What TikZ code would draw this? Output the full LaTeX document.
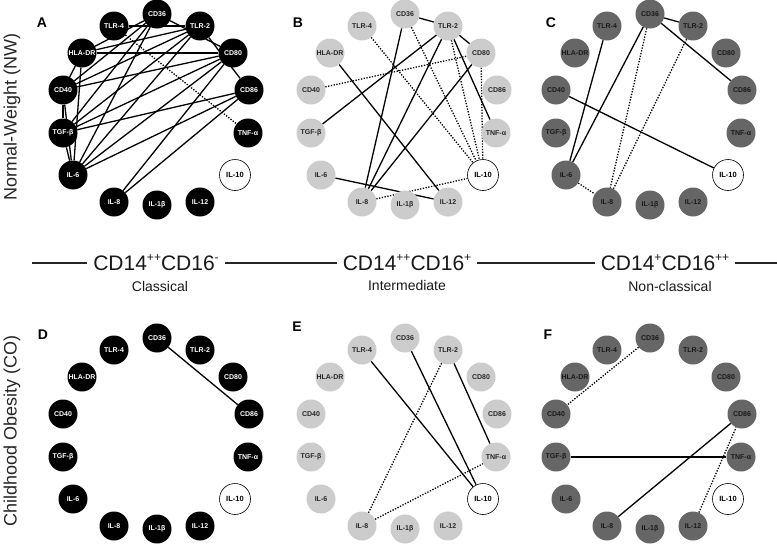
\documentclass[tikz,border=0pt]{standalone}
\usepackage{fontspec}
\setmainfont{Liberation Sans}
\usetikzlibrary{calc}
\pgfdeclarelayer{bg}
\pgfsetlayers{bg,main}
\newcommand{\upmark}[1]{\raisebox{.8ex}{\fontsize{12}{12}\selectfont#1}}
\tikzset{
 cyto/.style={circle,inner sep=0,minimum size=29pt,font=\fontsize{7}{8}\selectfont\bfseries},
 blackcyto/.style={cyto,fill=black,text=white},
 lightcyto/.style={cyto,fill=black!20,text=black!85},
 darkcyto/.style={cyto,fill=black!60,text=black!90},
 tencyto/.style={circle,draw,line width=.6pt,fill=white,inner sep=0,minimum size=31pt,font=\fontsize{7.5}{8}\selectfont\bfseries},
 link/.style={line width=1.3pt},
 dotlink/.style={line width=1.3pt,dash pattern=on 1.3pt off 1.5pt},
 divider/.style={line width=1.4pt,black!85},
 panelletter/.style={font=\fontsize{14}{16}\selectfont\bfseries},
 rowlabel/.style={rotate=90,font=\fontsize{18}{20}\selectfont,text=black!85},
 subset/.style={font=\fontsize{21}{24}\selectfont,text=black!90,inner xsep=6pt},
 subname/.style={font=\fontsize{14}{16}\selectfont,text=black!90}
}

\begin{document}
\begin{tikzpicture}[x=1pt,y=-1pt]
\path[use as bounding box] (0,0) rectangle (777,546);
% the six networks
\foreach \p/\cx/\cy/\sty in {A/157/0/blackcyto,B/405/0/lightcyto,C/650/0/darkcyto,
                             D/157/324/blackcyto,E/405/324/lightcyto,F/650/324/darkcyto}{
  \foreach \n/\t/\dx/\dy in {cd36/CD36/0/14,tlr4/TLR-4/-43/26,tlr2/TLR-2/43/26,
      hla/HLA-DR/-75/53,cd80/CD80/76/53,cd40/CD40/-94/90,cd86/CD86/92/90,
      tgf/TGF-β/-94/133,tnf/TNF-α/91/133,il6/IL-6/-84/175,il8/IL-8/-43/202,
      il1/IL-1β/0/205,il12/IL-12/43/202}
    \node[\sty] (\p\n) at ({\cx+(\dx)},{\cy+(\dy)}) {\t};
  \node[tencyto] (\p il10) at ({\cx+78},{\cy+175}) {IL-10};
}
\node[panelletter] (letA) at (42,23) {A};
\node[panelletter] (letB) at (298,23) {B};
\node[panelletter] (letC) at (551,23) {C};
\node[panelletter] (letD) at (43,335) {D};
\node[panelletter] (letE) at (297,327) {E};
\node[panelletter] (letF) at (548,335) {F};
\node[rowlabel] (nw) at (12,117) {Normal-Weight (NW)};
\node[rowlabel] (co) at (12,431) {Childhood Obesity (CO)};
% correlations
\begin{pgfonlayer}{bg}
\foreach \a/\b in {tlr4/tlr2,cd36/cd80,tlr2/cd86,hla/cd40,cd40/tgf,tgf/il6,hla/il6,
    cd40/il6,hla/cd36,hla/tlr2,hla/cd80,cd40/cd36,cd40/tlr2,cd40/cd80,tgf/cd36,
    tgf/tlr2,tgf/cd80,tgf/cd86,il6/cd36,il6/tlr2,il6/cd80,il6/cd86,il8/cd80,il8/cd86}
  \draw[link] (A\a) -- (A\b);
\draw[dotlink] (Atlr4) -- (Atnf);
\foreach \a/\b in {cd36/tlr2,tlr2/cd80,tlr2/tnf,tlr2/tgf,hla/il12,cd36/il8,tlr2/il8,
    cd80/il8,il6/il12}
  \draw[link] (B\a) -- (B\b);
\foreach \a/\b in {tlr4/il10,cd36/il10,tlr2/il10,cd80/il10,cd40/cd80,il8/il10}
  \draw[dotlink] (B\a) -- (B\b);
\foreach \a/\b in {cd36/tlr2,cd36/cd86,tlr4/il6,cd36/il6,cd40/il10}
  \draw[link] (C\a) -- (C\b);
\foreach \a/\b in {cd36/il8,tlr2/il8,il6/il8}
  \draw[dotlink] (C\a) -- (C\b);
\draw[link] (Dcd36) -- (Dcd86);
\foreach \a/\b in {tlr4/il10,cd36/il10,tlr2/tnf}
  \draw[link] (E\a) -- (E\b);
\foreach \a/\b in {tlr2/il8,il8/tnf}
  \draw[dotlink] (E\a) -- (E\b);
\foreach \a/\b in {tgf/tnf,il8/cd86}
  \draw[link] (F\a) -- (F\b);
\foreach \a/\b in {cd36/cd40,il12/cd86}
  \draw[dotlink] (F\a) -- (F\b);
\end{pgfonlayer}
% monocyte subsets
\coordinate (divstart) at (32,263);
\coordinate (divend) at (777,263);
\node[subset] (classic) at (156,263) {CD14\upmark{++}CD16\upmark{-}};
\node[subset] (interm) at (407,263) {CD14\upmark{++}CD16\upmark{+}};
\node[subset] (nonclassic) at (665,263) {CD14\upmark{+}CD16\upmark{++}};
\node[subname] (classicname) at (160,286) {Classical};
\node[subname] (intermname) at (407,285) {Intermediate};
\node[subname] (nonclassicname) at (670,286) {Non-classical};
\draw[divider] (divstart) -- (classic);
\draw[divider] (classic) -- (interm);
\draw[divider] (interm) -- (nonclassic);
\draw[divider] (nonclassic) -- (divend);
\end{tikzpicture}
\end{document}
